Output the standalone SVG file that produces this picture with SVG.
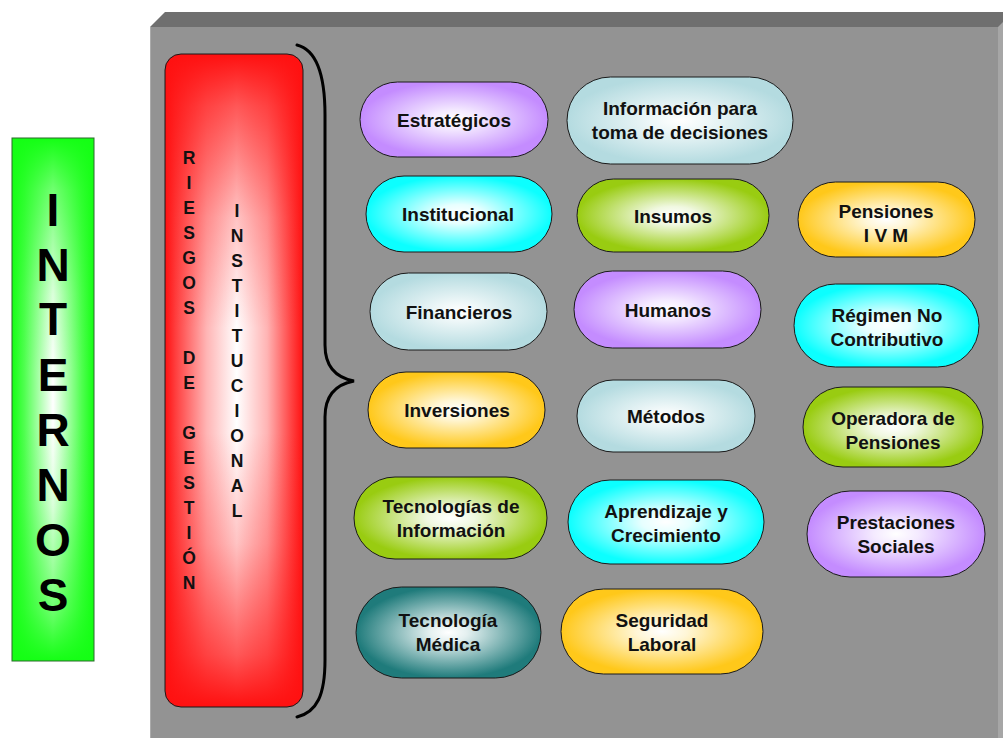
<svg xmlns="http://www.w3.org/2000/svg" width="1003" height="738" viewBox="0 0 1003 738">
  <defs>
    <radialGradient id="gPurple" cx="0.5" cy="0.5" r="0.5">
      <stop offset="0" stop-color="#ffffff"/>
      <stop offset="0.25" stop-color="#f4eaff"/>
      <stop offset="1" stop-color="#c48cff"/>
    </radialGradient>
    <radialGradient id="gCyan" cx="0.5" cy="0.5" r="0.5">
      <stop offset="0" stop-color="#ffffff"/>
      <stop offset="0.25" stop-color="#e6ffff"/>
      <stop offset="1" stop-color="#0cffff"/>
    </radialGradient>
    <radialGradient id="gPowder" cx="0.5" cy="0.5" r="0.5">
      <stop offset="0" stop-color="#ffffff"/>
      <stop offset="0.25" stop-color="#eef7f8"/>
      <stop offset="1" stop-color="#b4dbe0"/>
    </radialGradient>
    <radialGradient id="gGreen" cx="0.5" cy="0.5" r="0.5">
      <stop offset="0" stop-color="#ffffff"/>
      <stop offset="0.25" stop-color="#f0f8e0"/>
      <stop offset="1" stop-color="#99cc11"/>
    </radialGradient>
    <radialGradient id="gGold" cx="0.5" cy="0.5" r="0.5">
      <stop offset="0" stop-color="#ffffff"/>
      <stop offset="0.25" stop-color="#fff6d6"/>
      <stop offset="1" stop-color="#ffc81a"/>
    </radialGradient>
    <radialGradient id="gTeal" cx="0.5" cy="0.5" r="0.5">
      <stop offset="0" stop-color="#ffffff"/>
      <stop offset="0.2" stop-color="#e4f0f0"/>
      <stop offset="1" stop-color="#1f7b7b"/>
    </radialGradient>
    <!-- rectangular "from centre" shading built from two crossed linear ramps -->
    <linearGradient id="gRedH" x1="0" y1="0" x2="1" y2="0">
      <stop offset="0" stop-color="#ff1010"/>
      <stop offset="0.08" stop-color="#ff4040"/>
      <stop offset="0.3" stop-color="#ffb4b4"/>
      <stop offset="0.52" stop-color="#ffffff"/>
      <stop offset="0.74" stop-color="#ffb4b4"/>
      <stop offset="0.92" stop-color="#ff4040"/>
      <stop offset="1" stop-color="#ff1010"/>
    </linearGradient>
    <linearGradient id="gRedV" x1="0" y1="0" x2="0" y2="1">
      <stop offset="0" stop-color="#ff1010" stop-opacity="1"/>
      <stop offset="0.08" stop-color="#ff1010" stop-opacity="0.7"/>
      <stop offset="0.25" stop-color="#ff1010" stop-opacity="0.25"/>
      <stop offset="0.42" stop-color="#ff1010" stop-opacity="0"/>
      <stop offset="0.58" stop-color="#ff1010" stop-opacity="0"/>
      <stop offset="0.75" stop-color="#ff1010" stop-opacity="0.25"/>
      <stop offset="0.92" stop-color="#ff1010" stop-opacity="0.7"/>
      <stop offset="1" stop-color="#ff1010" stop-opacity="1"/>
    </linearGradient>
    <linearGradient id="gLimeH" x1="0" y1="0" x2="1" y2="0">
      <stop offset="0" stop-color="#14ff14"/>
      <stop offset="0.15" stop-color="#50ff50"/>
      <stop offset="0.5" stop-color="#ffffff"/>
      <stop offset="0.85" stop-color="#50ff50"/>
      <stop offset="1" stop-color="#14ff14"/>
    </linearGradient>
    <linearGradient id="gLimeV" x1="0" y1="0" x2="0" y2="1">
      <stop offset="0" stop-color="#14ff14" stop-opacity="1"/>
      <stop offset="0.1" stop-color="#14ff14" stop-opacity="0.6"/>
      <stop offset="0.3" stop-color="#14ff14" stop-opacity="0.15"/>
      <stop offset="0.45" stop-color="#14ff14" stop-opacity="0"/>
      <stop offset="0.55" stop-color="#14ff14" stop-opacity="0"/>
      <stop offset="0.7" stop-color="#14ff14" stop-opacity="0.15"/>
      <stop offset="0.9" stop-color="#14ff14" stop-opacity="0.6"/>
      <stop offset="1" stop-color="#14ff14" stop-opacity="1"/>
    </linearGradient>
    <style>
      .pill { stroke: #1a1a1a; stroke-width: 1; }
      .lbl { font-family: "Liberation Sans", Arial, sans-serif; font-weight: bold; font-size: 19px; fill: #111111; text-anchor: middle; }
      .vert { font-family: "Liberation Sans", Arial, sans-serif; font-weight: bold; font-size: 17.5px; fill: #111111; text-anchor: middle; }
      .big { font-family: "Liberation Sans", Arial, sans-serif; font-weight: bold; font-size: 46px; fill: #000000; text-anchor: middle; }
    </style>
  </defs>

  <rect width="1003" height="738" fill="#ffffff"/>

  <!-- background slab -->
  <g id="panel">
    <polygon points="150,27 165,12 1003,12 1003,27" fill="#6f6f6f"/>
    <polygon points="998,27 1003,22 1003,738 998,738" fill="#a6a6a6"/>
    <rect x="150" y="27" width="848" height="711" fill="#939393"/>
    <line x1="150.5" y1="27" x2="150.5" y2="738" stroke="#ababab" stroke-width="1"/>
  </g>

  <!-- left label -->
  <g id="internos">
    <rect x="12" y="138" width="82" height="523" fill="url(#gLimeH)"/>
    <rect x="12" y="138" width="82" height="523" fill="url(#gLimeV)" stroke="#2a6a2a" stroke-width="1"/>
    <text class="big" x="53" y="226">I</text>
    <text class="big" x="53" y="281">N</text>
    <text class="big" x="53" y="335">T</text>
    <text class="big" x="53" y="391">E</text>
    <text class="big" x="53" y="446">R</text>
    <text class="big" x="53" y="501">N</text>
    <text class="big" x="53" y="556">O</text>
    <text class="big" x="53" y="611">S</text>
  </g>

  <!-- vertical title box -->
  <g id="riesgos">
    <rect x="165" y="54" width="138" height="653" rx="16" ry="16" fill="url(#gRedH)"/>
    <rect x="165" y="54" width="138" height="653" rx="16" ry="16" fill="url(#gRedV)" stroke="#1a1a1a" stroke-width="1"/>
    <g class="vert">
      <text x="189" y="164">R</text>
      <text x="189" y="189">I</text>
      <text x="189" y="214">E</text>
      <text x="189" y="239">S</text>
      <text x="189" y="264">G</text>
      <text x="189" y="289">O</text>
      <text x="189" y="314">S</text>
      <text x="189" y="364">D</text>
      <text x="189" y="389">E</text>
      <text x="189" y="439">G</text>
      <text x="189" y="464">E</text>
      <text x="189" y="489">S</text>
      <text x="189" y="514">T</text>
      <text x="189" y="539">I</text>
      <text x="189" y="564">Ó</text>
      <text x="189" y="589">N</text>
      <text x="237" y="217">I</text>
      <text x="237" y="242">N</text>
      <text x="237" y="267">S</text>
      <text x="237" y="292">T</text>
      <text x="237" y="317">I</text>
      <text x="237" y="342">T</text>
      <text x="237" y="367">U</text>
      <text x="237" y="392">C</text>
      <text x="237" y="417">I</text>
      <text x="237" y="442">O</text>
      <text x="237" y="467">N</text>
      <text x="237" y="492">A</text>
      <text x="237" y="517">L</text>
    </g>
  </g>

  <!-- brace -->
  <g id="connectors">
    <path d="M297,45 C317,50 325,75 325,115 L325,345 C325,368 338,378 354,381 C338,384 325,394 325,417 L325,660 C325,695 317,712 297,717" fill="none" stroke="#000000" stroke-width="3" stroke-linecap="round"/>
  </g>

  <!-- column 1 -->
  <g id="estrategicos">
    <rect class="pill" x="360" y="82" width="188" height="75" rx="37.5" fill="url(#gPurple)"/>
    <text class="lbl" x="454" y="127">Estratégicos</text>
  </g>
  <g id="institucional">
    <rect class="pill" x="366" y="176" width="186" height="76" rx="38" fill="url(#gCyan)"/>
    <text class="lbl" x="458" y="221">Institucional</text>
  </g>
  <g id="financieros">
    <rect class="pill" x="370" y="273" width="177" height="77" rx="38.5" fill="url(#gPowder)"/>
    <text class="lbl" x="459" y="319">Financieros</text>
  </g>
  <g id="inversiones">
    <rect class="pill" x="368" y="372" width="177" height="76" rx="38" fill="url(#gGold)"/>
    <text class="lbl" x="457" y="417">Inversiones</text>
  </g>
  <g id="tecnologias-informacion">
    <rect class="pill" x="354" y="477" width="193" height="82" rx="41" fill="url(#gGreen)"/>
    <text class="lbl" x="451" y="513">Tecnologías de</text>
    <text class="lbl" x="451" y="537">Información</text>
  </g>
  <g id="tecnologia-medica">
    <rect class="pill" x="356" y="587" width="185" height="91" rx="45.5" fill="url(#gTeal)"/>
    <text class="lbl" x="448" y="627">Tecnología</text>
    <text class="lbl" x="448" y="651">Médica</text>
  </g>

  <!-- column 2 -->
  <g id="informacion-decisiones">
    <rect class="pill" x="567" y="77" width="226" height="87" rx="43.5" fill="url(#gPowder)"/>
    <text class="lbl" x="680" y="115">Información para</text>
    <text class="lbl" x="680" y="139">toma de decisiones</text>
  </g>
  <g id="insumos">
    <rect class="pill" x="577" y="179" width="192" height="73" rx="36.5" fill="url(#gGreen)"/>
    <text class="lbl" x="673" y="223">Insumos</text>
  </g>
  <g id="humanos">
    <rect class="pill" x="574" y="271" width="187" height="77" rx="38.5" fill="url(#gPurple)"/>
    <text class="lbl" x="668" y="317">Humanos</text>
  </g>
  <g id="metodos">
    <rect class="pill" x="577" y="380" width="178" height="72" rx="36" fill="url(#gPowder)"/>
    <text class="lbl" x="666" y="423">Métodos</text>
  </g>
  <g id="aprendizaje">
    <rect class="pill" x="568" y="480" width="196" height="84" rx="42" fill="url(#gCyan)"/>
    <text class="lbl" x="666" y="518">Aprendizaje y</text>
    <text class="lbl" x="666" y="542">Crecimiento</text>
  </g>
  <g id="seguridad">
    <rect class="pill" x="561" y="589" width="202" height="85" rx="42.5" fill="url(#gGold)"/>
    <text class="lbl" x="662" y="627">Seguridad</text>
    <text class="lbl" x="662" y="651">Laboral</text>
  </g>

  <!-- column 3 -->
  <g id="pensiones-ivm">
    <rect class="pill" x="798" y="182" width="177" height="75" rx="37.5" fill="url(#gGold)"/>
    <text class="lbl" x="886" y="218">Pensiones</text>
    <text class="lbl" x="886" y="242">I V M</text>
  </g>
  <g id="regimen">
    <rect class="pill" x="794" y="284" width="185" height="83" rx="41.5" fill="url(#gCyan)"/>
    <text class="lbl" x="887" y="322">Régimen No</text>
    <text class="lbl" x="887" y="346">Contributivo</text>
  </g>
  <g id="operadora">
    <rect class="pill" x="803" y="387" width="180" height="80" rx="40" fill="url(#gGreen)"/>
    <text class="lbl" x="893" y="425">Operadora de</text>
    <text class="lbl" x="893" y="449">Pensiones</text>
  </g>
  <g id="prestaciones">
    <rect class="pill" x="807" y="491" width="178" height="86" rx="43" fill="url(#gPurple)"/>
    <text class="lbl" x="896" y="529">Prestaciones</text>
    <text class="lbl" x="896" y="553">Sociales</text>
  </g>
</svg>
